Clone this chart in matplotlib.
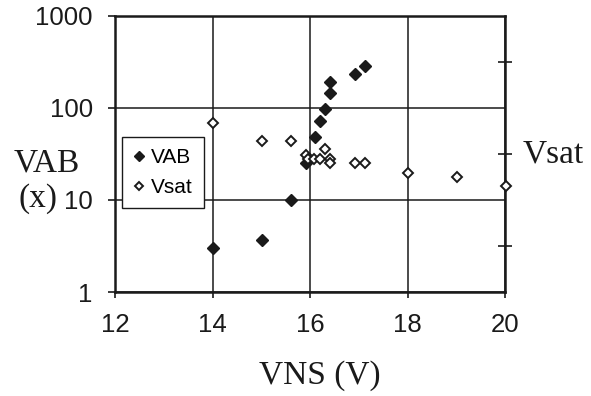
import matplotlib
matplotlib.use("Agg")
import matplotlib.pyplot as plt
from matplotlib.ticker import FixedLocator, NullFormatter, NullLocator

# Data
vab_x = [14.0, 15.02, 15.62, 15.91, 16.1, 16.2, 16.31, 16.41, 16.41, 16.92, 17.12]
vab_y = [3.0, 3.7, 10.0, 25.0, 49.0, 73.0, 98.0, 147.0, 190.0, 235.0, 285.0]

vsat_x = [14.0, 15.02, 15.62, 15.91, 15.95, 16.08, 16.2, 16.31, 16.41, 16.41, 16.92, 17.12, 18.0, 19.02, 20.02]
vsat_y = [68.0, 44.0, 44.0, 31.0, 28.0, 28.0, 28.0, 36.0, 28.0, 25.0, 25.0, 25.0, 19.5, 17.7, 14.3]

x_ticks = [12, 14, 16, 18, 20]
y_ticks = [1, 10, 100, 1000]
y_ticklabels = ["1", "10", "100", "1000"]

sans = "Liberation Sans"
serif = "Liberation Serif"

fig = plt.figure(figsize=(5.91, 3.96), dpi=100)
ax = fig.add_axes([115/591, 1-292/396, 390/591, 276/396])

ax.set_xlim(12, 20)
ax.set_yscale("log")
ax.set_ylim(1, 1000)

ax.plot(vab_x, vab_y, linestyle="none", marker="D", markersize=6.2,
        markerfacecolor="#1a1a1a", markeredgecolor="#1a1a1a", label="VAB",
        zorder=4, clip_on=False)
ax.plot(vsat_x, vsat_y, linestyle="none", marker="D", markersize=5.4,
        markerfacecolor="white", markeredgecolor="#1a1a1a", markeredgewidth=1.4,
        label="Vsat", zorder=5, clip_on=False)

ax.set_xticks(x_ticks)
ax.set_xticklabels([str(t) for t in x_ticks])
ax.yaxis.set_major_locator(FixedLocator(y_ticks))
ax.set_yticklabels(y_ticklabels)
ax.yaxis.set_minor_locator(NullLocator())
ax.yaxis.set_minor_formatter(NullFormatter())

for lab in ax.get_xticklabels() + ax.get_yticklabels():
    lab.set_fontfamily(sans)
    lab.set_fontsize(18.5)

ax.tick_params(axis="x", direction="out", length=4, width=1.2, pad=11, colors="#1a1a1a")
ax.tick_params(axis="y", direction="out", length=5, width=1.2, pad=11, colors="#1a1a1a")

ax.grid(True, which="major", color="#1a1a1a", linewidth=1.1)
ax.set_axisbelow(True)
for s in ax.spines.values():
    s.set_linewidth(1.8)
    s.set_color("#1a1a1a")

# right-hand axis with tick marks only
ax2 = ax.twinx()
ax2.set_yscale("log")
ax2.set_ylim(1, 1000)
ax2.yaxis.set_major_locator(FixedLocator([10**0.5, 10**1.5, 10**2.5]))
ax2.yaxis.set_major_formatter(NullFormatter())
ax2.yaxis.set_minor_locator(NullLocator())
ax2.tick_params(axis="y", direction="inout", length=10, width=1.2, colors="#1a1a1a")
for s in ax2.spines.values():
    s.set_visible(False)

leg = ax.legend(loc="upper left", bbox_to_anchor=((122-115)/390, (292-137)/276),
                prop={"family": sans, "size": 15}, frameon=True, fancybox=False,
                edgecolor="#1a1a1a", framealpha=1, handlelength=0.5, handletextpad=0.35,
                borderpad=0.55, labelspacing=0.5, borderaxespad=0, markerscale=0.8)
leg.get_frame().set_linewidth(1.0)
leg.set_zorder(10)

fig.text(47/591, 1-163/396, "VAB", family=serif, fontsize=24, ha="center", va="center", color="#1a1a1a")
fig.text(38/591, 1-199/396, "(x)", family=serif, fontsize=24, ha="center", va="center", color="#1a1a1a")
fig.text(553/591, 1-154/396, "Vsat", family=serif, fontsize=24, ha="center", va="center", color="#1a1a1a")
fig.text(320/591, 1-376/396, "VNS (V)", family=serif, fontsize=24, ha="center", va="center", color="#1a1a1a")

fig.savefig("out.png", dpi=100)
